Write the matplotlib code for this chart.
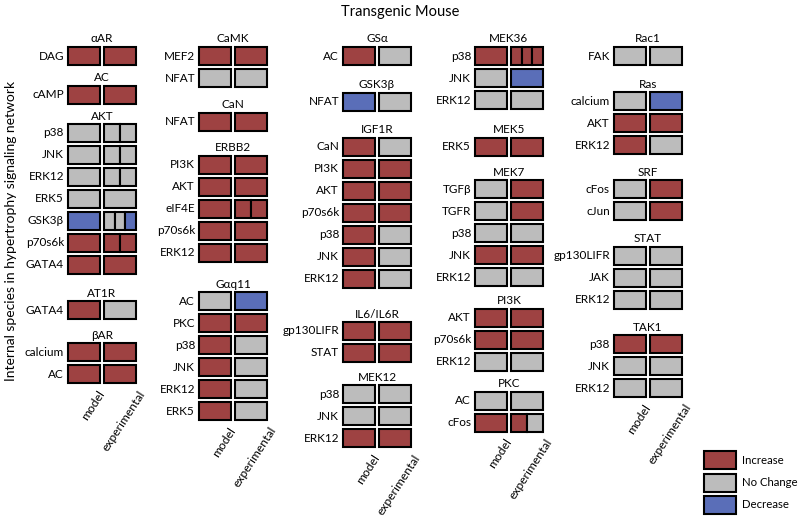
import matplotlib
matplotlib.use("Agg")
import matplotlib.pyplot as plt
from matplotlib.patches import Rectangle

plt.rcParams['font.family'] = ['Lato', 'DejaVu Sans']

# states: 1 = increase, 0 = no change, -1 = decrease
col1_groups = ["αAR", "AC", "AKT", "AT1R", "βAR"]
col1_species = [["DAG"], ["cAMP"],
                ["p38", "JNK", "ERK12", "ERK5", "GSK3β", "p70s6k", "GATA4"],
                ["GATA4"], ["calcium", "AC"]]
col1_model = [[1], [1], [0, 0, 0, 0, -1, 1, 1], [1], [1, 1]]
col1_exp = [[[1]], [[1]],
            [[0, 0], [0, 0], [0, 0], [0], [0, 0, -1], [1, 1], [1]],
            [[0]], [[1], [1]]]

col2_groups = ["CaMK", "CaN", "ERBB2", "Gαq11"]
col2_species = [["MEF2", "NFAT"], ["NFAT"],
                ["PI3K", "AKT", "eIF4E", "p70s6k", "ERK12"],
                ["AC", "PKC", "p38", "JNK", "ERK12", "ERK5"]]
col2_model = [[1, 0], [1], [1, 1, 1, 1, 1], [0, 1, 1, 1, 1, 1]]
col2_exp = [[[1], [0]], [[1]],
            [[1], [1], [1, 1], [1], [1]],
            [[-1], [1], [0], [0], [0], [0]]]

col3_groups = ["GSα", "GSK3β", "IGF1R", "IL6/IL6R", "MEK12"]
col3_species = [["AC"], ["NFAT"],
                ["CaN", "PI3K", "AKT", "p70s6k", "p38", "JNK", "ERK12"],
                ["gp130LIFR", "STAT"], ["p38", "JNK", "ERK12"]]
col3_model = [[1], [-1], [1, 1, 1, 1, 1, 1, 1], [1, 1], [0, 0, 1]]
col3_exp = [[[0]], [[0]],
            [[0], [1], [1], [1], [0], [0], [0]],
            [[1], [1]], [[0], [0], [1]]]

col4_groups = ["MEK36", "MEK5", "MEK7", "PI3K", "PKC"]
col4_species = [["p38", "JNK", "ERK12"], ["ERK5"],
                ["TGFβ", "TGFR", "p38", "JNK", "ERK12"],
                ["AKT", "p70s6k", "ERK12"], ["AC", "cFos"]]
col4_model = [[1, 0, 0], [1], [0, 0, 0, 1, 0], [1, 1, 0], [0, 1]]
col4_exp = [[[1, 1, 1], [-1], [0]], [[1]],
            [[1], [1], [0], [1], [0]],
            [[1], [1], [0]], [[0], [1, 0]]]

col5_groups = ["Rac1", "Ras", "SRF", "STAT", "TAK1"]
col5_species = [["FAK"], ["calcium", "AKT", "ERK12"], ["cFos", "cJun"],
                ["gp130LIFR", "JAK", "ERK12"], ["p38", "JNK", "ERK12"]]
col5_model = [[0], [0, 1, 1], [0, 0], [0, 0, 0], [1, 0, 0]]
col5_exp = [[[0]], [[-1], [1], [0]], [[1], [1]],
            [[0], [0], [0]], [[1], [0], [0]]]

legend_labels = ["Increase", "No Change", "Decrease"]
legend_states = [1, 0, -1]

# layout (pixels)
colors = {1: "#9e4242", 0: "#bcbcbc", -1: "#5a6eb8"}
col_x = [67, 198, 342, 474, 613]
col_gaps = [[0, 0.75, 0.75, 1.05, 0.92],
            [0, 0.99, 0.96, 1.19],
            [0, 1.08, 1.04, 1.38, 0.88],
            [0, 1.12, 0.94, 0.84, 0.77],
            [0, 1.05, 1.01, 1.02, 1.02]]
TOP = 46
PITCH = 22
CELL_W = 32
CELL_H = 18
LW = 1.5
FS = 8.5


def cell(ax, x, y, w, state):
    ax.add_patch(Rectangle((x, y), w, CELL_H, facecolor=colors[state],
                           edgecolor="black", linewidth=LW))


def draw_column(ax, x0, groups, species, model, exp, gaps, labels=True):
    y = TOP
    for g, name in enumerate(groups):
        y += gaps[g] * PITCH
        ax.text(x0 + 35, y - 1.5, name, ha="center", va="bottom", fontsize=FS)
        for r, sp in enumerate(species[g]):
            if labels:
                ax.text(x0 - 3, y + 10, sp, ha="right", va="center", fontsize=FS)
            cell(ax, x0 + 1, y + 1, CELL_W, model[g][r])
            parts = exp[g][r]
            w = CELL_W / len(parts)
            for k, st in enumerate(parts):
                cell(ax, x0 + 37 + k * w, y + 1, w, st)
            y += PITCH
    bottom = y - 2
    # rotated column captions under each block
    ax.text(x0 + 30, bottom + 4, "model", rotation=57, ha="right", va="top",
            rotation_mode="anchor", fontsize=8.7)
    ax.text(x0 + 71, bottom + 4, "experimental", rotation=57, ha="right",
            va="top", rotation_mode="anchor", fontsize=8.7)


fig = plt.figure(figsize=(8, 5.17), dpi=100)
ax = fig.add_axes([0, 0, 1, 1])
ax.set_xlim(0, 800)
ax.set_ylim(517, 0)
ax.axis("off")

columns = [
    (col1_groups, col1_species, col1_model, col1_exp),
    (col2_groups, col2_species, col2_model, col2_exp),
    (col3_groups, col3_species, col3_model, col3_exp),
    (col4_groups, col4_species, col4_model, col4_exp),
    (col5_groups, col5_species, col5_model, col5_exp),
]
for i, (groups, species, model, exp) in enumerate(columns):
    draw_column(ax, col_x[i], groups, species, model, exp, col_gaps[i])

# legend
for i, (lab, st) in enumerate(zip(legend_labels, legend_states)):
    ly = 451 + i * 22.5
    ax.add_patch(Rectangle((704, ly), 32, CELL_H, facecolor=colors[st],
                           edgecolor="black", linewidth=LW))
    ax.text(742, ly + 9, lab, ha="left", va="center", fontsize=8.2)

ax.text(400, 12, "Transgenic Mouse", ha="center", va="center", fontsize=10.5)
ax.text(11, 231, "Internal species in hypertrophy signaling network",
        rotation=90, ha="center", va="center", fontsize=10)

fig.savefig("out.png", dpi=100)
